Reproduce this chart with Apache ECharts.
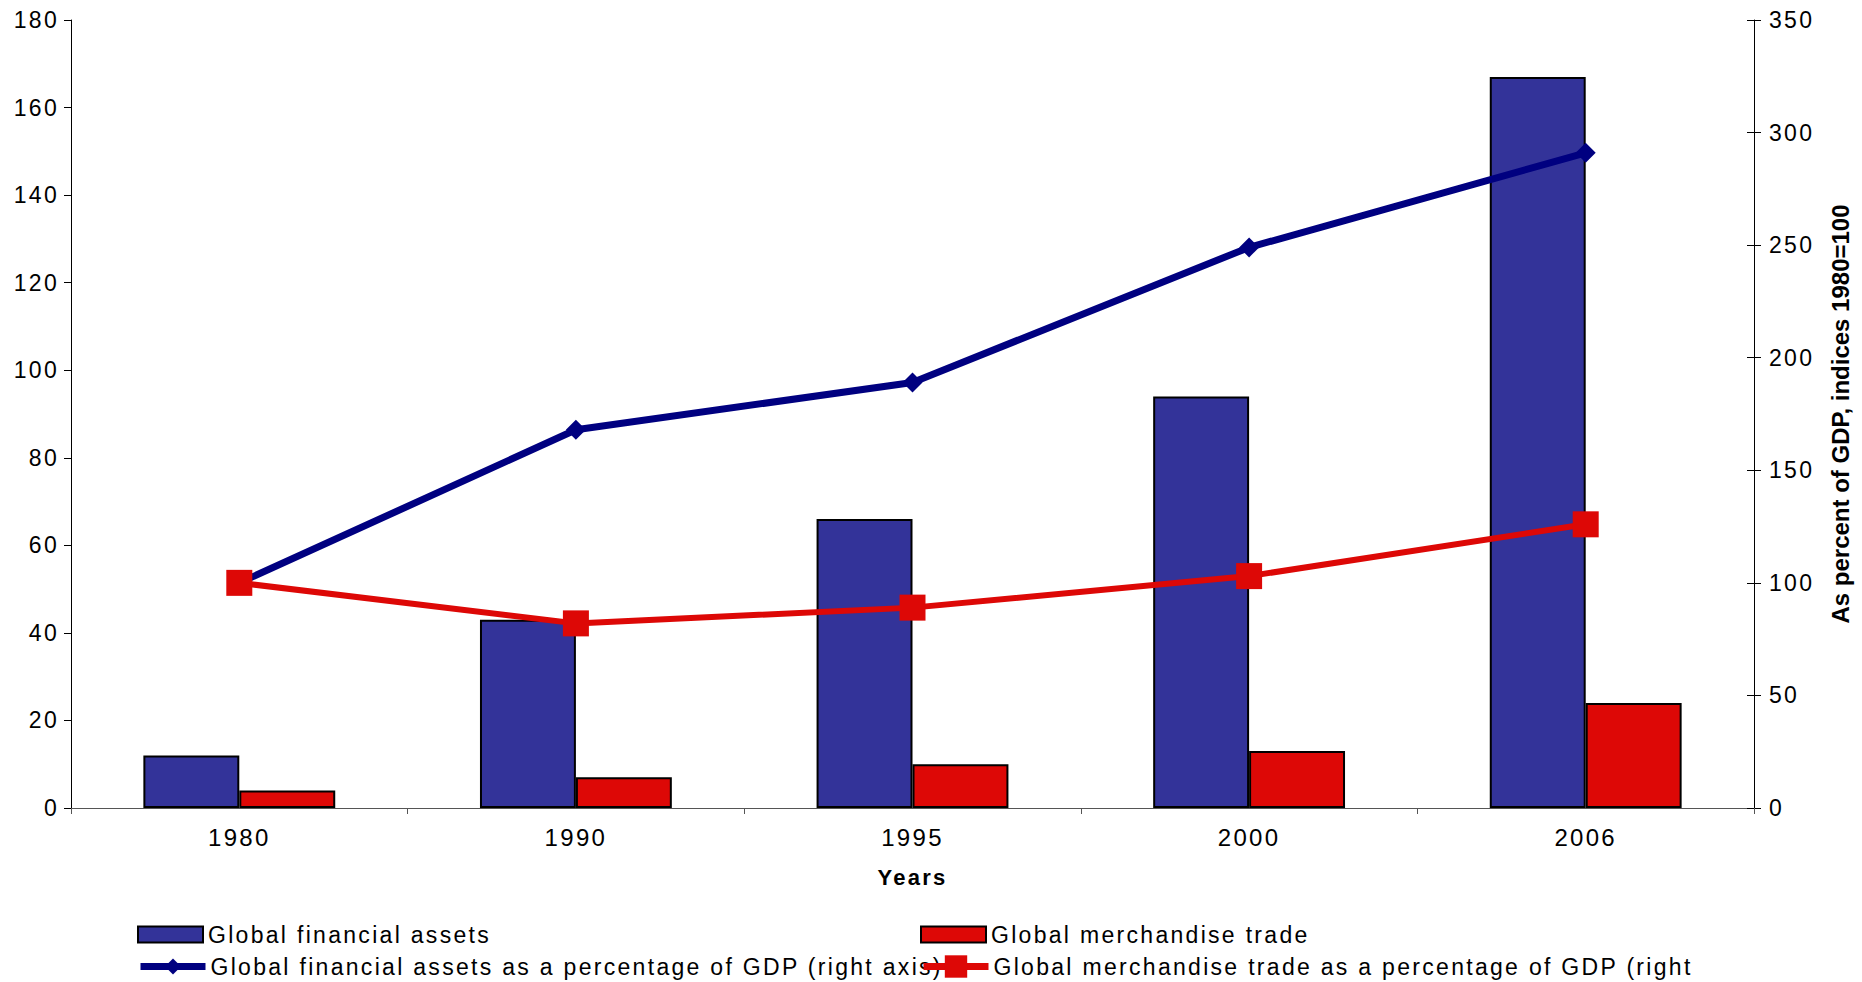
<!DOCTYPE html>
<html>
<head>
<meta charset="utf-8">
<script src="https://cdn.jsdelivr.net/npm/echarts@6/dist/echarts.min.js"></script>
<style>
  html, body { margin: 0; padding: 0; background: #fff; }
  #chart { width: 1862px; height: 982px; }
  /* spaced-out lettering for labels and legend */
  #chart svg text { letter-spacing: 2.3px; }
</style>
</head>
<body>
<div id="chart"></div>
<script>
// Years on the category axis
const years = ['1980', '1990', '1995', '2000', '2006'];
// Left axis: trillions of US dollars
const financialAssets = [12, 43, 66, 94, 167];
const merchandiseTrade = [4, 7, 10, 13, 24];
// Right axis: share of GDP, indexed to 1980 = 100
const financialAssetsPctGdp = [100, 168, 189, 249, 291];
const merchandiseTradePctGdp = [100, 82, 89, 103, 126];

const seriesNames = [
  'Global financial assets',
  'Global merchandise trade',
  'Global financial assets as a percentage of GDP (right axis)',
  'Global merchandise trade as a percentage of GDP (right'
];
const rightAxisTitle = 'As percent of GDP, indices 1980=100';

const font = "'Liberation Sans', Arial, sans-serif";

function legendAt(name, left, top, iconHeight, icon) {
  return {
    data: [icon ? { name: name, icon: icon } : name],
    left: left, top: top,
    itemWidth: 65, itemHeight: iconHeight, itemGap: 0,
    textStyle: { fontFamily: font, fontSize: 23, color: '#000' },
    padding: 0, selectedMode: false,
    lineStyle: { width: 7 }
  };
}

const chart = echarts.init(document.getElementById('chart'), null, { renderer: 'svg' });
chart.on('finished', function () {
  // the rotated right-hand title is set tight, without extra spacing
  document.querySelectorAll('#chart svg text').forEach(function (t) {
    if (t.textContent === rightAxisTitle) t.style.letterSpacing = '0px';
  });
});

chart.setOption({
  animation: false,
  backgroundColor: '#fff',
  grid: { left: 71, right: 108, top: 20, bottom: 174 },
  legend: [
    legendAt(seriesNames[0], 137, 923, 16, 'rect'),
    legendAt(seriesNames[1], 920, 923, 16, 'rect'),
    legendAt(seriesNames[2], 137, 955, 20),
    legendAt(seriesNames[3], 920, 955, 28)
  ],
  xAxis: {
    type: 'category',
    data: years,
    name: 'Years',
    nameLocation: 'middle',
    nameGap: 58,
    nameTextStyle: { fontFamily: font, fontSize: 22, fontWeight: 'bold', color: '#000' },
    axisLine: { lineStyle: { color: '#555', width: 1 } },
    axisTick: { show: true, alignWithLabel: false, length: 6, lineStyle: { color: '#555' } },
    axisLabel: { fontFamily: font, fontSize: 24, color: '#000', margin: 17 }
  },
  yAxis: [
    {
      type: 'value', min: 0, max: 180, interval: 20,
      axisLine: { show: true, lineStyle: { color: '#000', width: 1 } },
      axisTick: { show: true, length: 7, lineStyle: { color: '#000' } },
      splitLine: { show: false },
      axisLabel: { fontFamily: font, fontSize: 23, color: '#000', margin: 12 }
    },
    {
      type: 'value', min: 0, max: 350, interval: 50,
      position: 'right',
      name: rightAxisTitle,
      nameLocation: 'middle',
      nameRotate: 90,
      nameGap: 74,
      nameTextStyle: { fontFamily: font, fontSize: 24, fontWeight: 'bold', color: '#000' },
      axisLine: { show: true, lineStyle: { color: '#000', width: 1 } },
      axisTick: { show: true, length: 7, lineStyle: { color: '#000' } },
      splitLine: { show: false },
      axisLabel: { fontFamily: font, fontSize: 23, color: '#000', margin: 15 }
    },
    {
      // inner half of the right axis tick marks
      type: 'value', min: 0, max: 350, interval: 50,
      position: 'right',
      axisLine: { show: false },
      axisTick: { show: true, inside: true, length: 7, lineStyle: { color: '#000' } },
      axisLabel: { show: false },
      splitLine: { show: false }
    }
  ],
  series: [
    {
      name: seriesNames[0], type: 'bar', yAxisIndex: 0,
      data: financialAssets,
      barGap: '0%', barCategoryGap: '43%',
      itemStyle: { color: '#333399', borderColor: '#000', borderWidth: 2 }
    },
    {
      name: seriesNames[1], type: 'bar', yAxisIndex: 0,
      data: merchandiseTrade,
      barGap: '0%', barCategoryGap: '43%',
      itemStyle: { color: '#DD0806', borderColor: '#000', borderWidth: 2 }
    },
    {
      name: seriesNames[2], type: 'line', yAxisIndex: 1,
      data: financialAssetsPctGdp,
      symbol: 'diamond', symbolSize: 20,
      lineStyle: { color: '#000080', width: 7 },
      itemStyle: { color: '#000080' },
      z: 3
    },
    {
      name: seriesNames[3], type: 'line', yAxisIndex: 1,
      data: merchandiseTradePctGdp,
      symbol: 'rect', symbolSize: 26,
      lineStyle: { color: '#DD0806', width: 6 },
      itemStyle: { color: '#DD0806' },
      z: 4
    }
  ]
});
</script>
</body>
</html>
